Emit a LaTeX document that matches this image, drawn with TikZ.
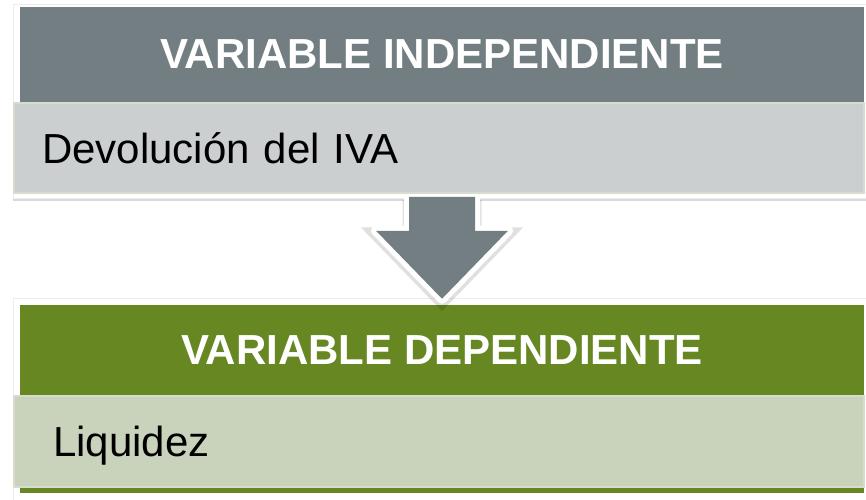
\documentclass[tikz,border=0pt]{standalone}
\usepackage{fontspec}
\setmainfont{Liberation Sans}
\usetikzlibrary{positioning,shadows,calc}
\definecolor{grisosc}{RGB}{115,126,130}
\definecolor{grisclaro}{RGB}{203,207,208}
\definecolor{verde}{RGB}{102,135,33}
\definecolor{verdeclaro}{RGB}{201,211,188}
\definecolor{bordeclaro}{RGB}{214,220,206}

\begin{document}
\begin{tikzpicture}[x=1pt, y=1pt,
  tarjeta/.style={rectangle, inner sep=0pt, fill=white, draw=black!7,
    drop shadow={opacity=0.3, shadow xshift=0pt, shadow yshift=-3pt}},
  titulo/.style={rectangle, inner sep=0pt, minimum width=844pt, minimum height=95pt,
    text=white, font=\fontsize{42}{48}\selectfont\bfseries},
  contenido/.style={rectangle, draw=bordeclaro, line width=1.5pt, minimum width=850pt,
    minimum height=90pt, inner ysep=0pt, align=left, text height=30pt, text depth=0pt,
    font=\fontsize{42}{48}\selectfont},
  flecha/.pic={\path[pic actions] (-33,0) -- ++(0,-34) -- ++(-33,0) -- (0,-102) -- ++(66,68) -- ++(-33,0) -- ++(0,34);}]
\useasboundingbox (0,0) rectangle (866,499);
\node[tarjeta, minimum width=853pt, minimum height=194pt] (tarjetaind) at (439.5,398) {};
\node[titulo, fill=grisosc] (indep) at (442,444.5) {VARIABLE INDEPENDIENTE};
\node[contenido, fill=grisclaro, inner xsep=28pt, text width=794pt] (indepval) at (439,351) {Devolución del IVA};
\node[tarjeta, minimum width=853pt, minimum height=211pt] (tarjetadep) at (439.5,95.5) {};
\node[titulo, fill=verde, minimum height=90pt] (depend) at (442,149) {VARIABLE DEPENDIENTE};
\fill[verde] (depend.south west) rectangle ($(depend.south east)+(0,-98)$);
\node[contenido, fill=verdeclaro, minimum height=91pt, inner xsep=39pt, text width=772pt] (dependval) at (439,57.5) {Liquidez};
\coordinate (ftop) at ([yshift=-3pt]indep.center |- indepval.south);
\pic[draw=black, opacity=0.12, line width=13pt] at ([yshift=-3pt]ftop) {flecha};
\pic[fill=white, draw=white, line width=10pt, line join=round] at (ftop) {flecha};
\pic[fill=grisosc] at (ftop) {flecha};
\end{tikzpicture}
\end{document}
